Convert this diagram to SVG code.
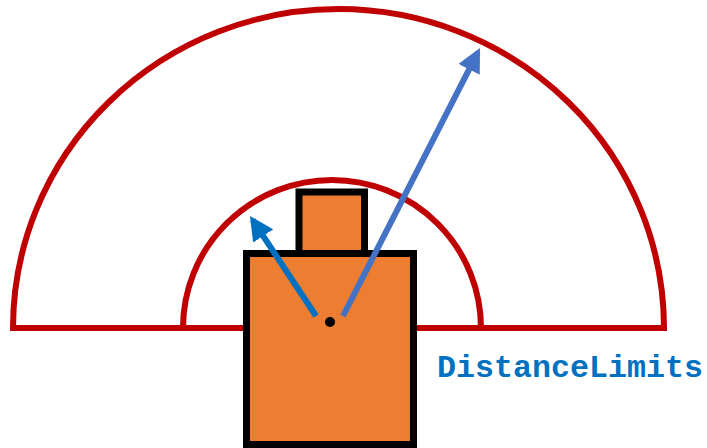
<svg xmlns="http://www.w3.org/2000/svg" width="707" height="448" viewBox="0 0 707 448">
<style>
.limit{fill:none;stroke:#C00000;stroke-width:6;stroke-linejoin:miter}
.box{fill:#ED7D31;stroke:#000;stroke-width:7}
.lbl{font-family:"Liberation Mono","Courier New",monospace;font-weight:bold;font-size:31px;fill:#0070C0}
</style>
<defs>
<marker id="ah1" viewBox="0 0 10 10" refX="8" refY="5" markerWidth="4" markerHeight="4" orient="auto" markerUnits="strokeWidth"><path d="M0,0 L10,5 L0,10 z" fill="#0070C0"/></marker>
<marker id="ah2" viewBox="0 0 10 10" refX="8" refY="5" markerWidth="4" markerHeight="4" orient="auto" markerUnits="strokeWidth"><path d="M0,0 L10,5 L0,10 z" fill="#4472C4"/></marker>
</defs>
<g id="outer-limit"><path class="limit" d="M13,328 A325.5,319 0 0 1 664,328 Z"/></g>
<g id="inner-limit"><path class="limit" d="M183,328 A149,148 0 0 1 481,328 Z"/></g>
<g id="body"><rect class="box" x="246.5" y="253.5" width="167" height="191"/></g>
<g id="head"><rect class="box" x="299" y="192" width="65.5" height="61.5"/></g>
<g id="origin"><circle cx="330" cy="322" r="5" fill="#000"/></g>
<g id="connectors">
<line x1="316" y1="316" x2="252.6" y2="220" stroke="#0070C0" stroke-width="6" marker-end="url(#ah1)"/>
<line x1="343" y1="316" x2="477.8" y2="52.3" stroke="#4472C4" stroke-width="6" marker-end="url(#ah2)"/>
</g>
<g id="label"><text class="lbl" x="437" y="377" textLength="266" lengthAdjust="spacingAndGlyphs">DistanceLimits</text></g>
</svg>
